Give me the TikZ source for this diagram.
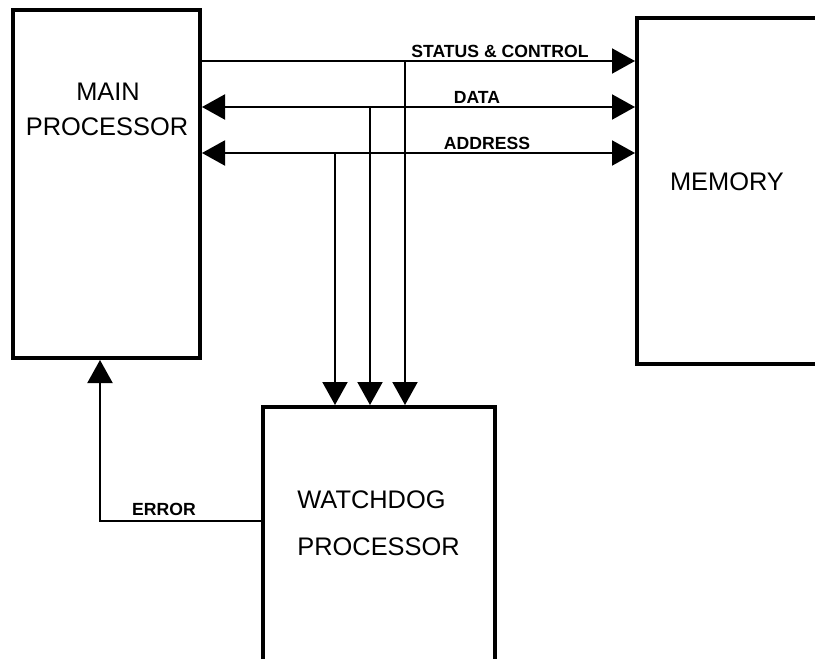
\documentclass[tikz,border=0pt]{standalone}
\usepackage{fontspec}
\setmainfont{Liberation Sans}
\usetikzlibrary{arrows.meta,positioning}
\tikzset{
  box/.style={draw,line width=2pt,inner sep=0pt},
  bus/.style={line width=1pt},
  tip/.style={-{Triangle[length=11.5pt,width=12.5pt]}},
  bitip/.style={{Triangle[length=11.5pt,width=12.5pt]}-{Triangle[length=11.5pt,width=12.5pt]}},
  title/.style={font=\fontsize{12.7}{15}\selectfont,inner sep=0pt},
  lbl/.style={font=\bfseries\fontsize{8.8}{10}\selectfont,inner sep=0pt}
}
\begin{document}
\begin{tikzpicture}[x=0.5pt,y=-0.5pt]
  \useasboundingbox (0,0) rectangle (815,659);
  % blocks
  \node[box,minimum width=93.5pt,minimum height=174pt] (main) at (106.5,184) {};
  \node[box,minimum width=106.5pt,minimum height=173pt] (mem) at (743.5,191) {};
  \node[box,minimum width=116pt,minimum height=136.5pt] (wd) at (379,543.5) {};
  \node[title] (mainA) at (108,92) {MAIN};
  \node[title] (mainB) at (107,127) {PROCESSOR};
  \node[title] (memA) at (727,182) {MEMORY};
  \node[title,anchor=west] (wdA) at (297,500) {WATCHDOG};
  \node[title,anchor=west] (wdB) at (297,547) {PROCESSOR};
  % buses
  \coordinate (st) at (200,61);
  \coordinate (da) at (200,107);
  \coordinate (ad) at (200,153);
  \draw[bus,tip] (st) -- (st -| mem.west);
  \draw[bus,bitip] (da -| main.east) -- (da -| mem.west);
  \draw[bus,bitip] (ad -| main.east) -- (ad -| mem.west);
  \node[lbl] (stl) at (500,51) {STATUS \& CONTROL};
  \node[lbl] (dal) at (477,97) {DATA};
  \node[lbl] (adl) at (487,143) {ADDRESS};
  % taps to watchdog
  \foreach \y/\x in {61/405,107/370,153/335}
    \draw[bus,tip] (\x,\y) -- (\x,0 |- wd.north);
  % error line
  \coordinate (er) at (100,521);
  \draw[bus,tip] (er -| wd.west) -- (er) -- (er |- main.south);
  \node[lbl] (erl) at (164,509) {ERROR};
\end{tikzpicture}
\end{document}
